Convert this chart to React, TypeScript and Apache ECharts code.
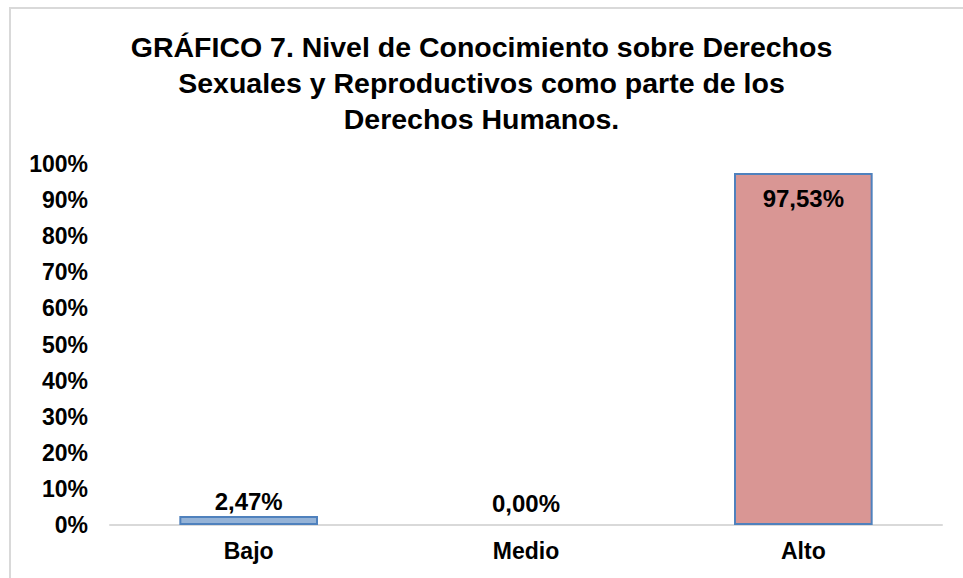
import React, { useEffect, useRef } from "react";
import * as echarts from "echarts";

const categories = ["Bajo", "Medio", "Alto"];
const values = [2.47, 0.0, 97.53];
const fillColors = ["#95b3d7", "#95b3d7", "#d99694"];
const yTicks = [0, 10, 20, 30, 40, 50, 60, 70, 80, 90, 100];
const titleText =
  "GRÁFICO 7. Nivel de Conocimiento sobre Derechos\nSexuales y Reproductivos como parte de los\nDerechos Humanos.";

const FONT = "'Liberation Sans', Arial, sans-serif";

export default function App() {
  const ref = useRef<HTMLDivElement>(null);
  useEffect(() => {
    if (!ref.current) return;
    const chart = echarts.init(ref.current, undefined, { renderer: "svg" });
    const fmt = (v: number) => v.toFixed(2).replace(".", ",") + "%";
    chart.setOption({
      animation: false,
      backgroundColor: "#ffffff",
      title: {
        text: titleText,
        left: "center",
        top: 29,
        padding: 0,
        textStyle: {
          fontFamily: FONT,
          fontWeight: "bold",
          fontSize: 28.5,
          lineHeight: 36,
          color: "#000000",
        },
      },
      graphic: [
        {
          type: "rect",
          shape: { x: 10, y: 8, width: 1200, height: 1200 },
          style: { fill: "none", stroke: "#d9d9d9", lineWidth: 2 },
          silent: true,
        },
      ],
      grid: { left: 110, right: 21, top: 164, bottom: 53, containLabel: false },
      xAxis: {
        type: "category",
        data: categories,
        axisLine: { show: true, lineStyle: { color: "#d9d9d9", width: 2 } },
        axisTick: { show: false },
        axisLabel: {
          margin: 14,
          fontFamily: FONT,
          fontWeight: "bold",
          fontSize: 23,
          color: "#000000",
        },
      },
      yAxis: {
        type: "value",
        min: yTicks[0],
        max: yTicks[yTicks.length - 1],
        interval: 10,
        axisLine: { show: false },
        axisTick: { show: false },
        splitLine: { show: false },
        axisLabel: {
          margin: 22,
          fontFamily: FONT,
          fontWeight: "bold",
          fontSize: 23,
          color: "#000000",
          formatter: (v: number) => v + "%",
        },
      },
      series: [
        {
          type: "bar",
          barWidth: "50%",
          data: values.map((v, i) => ({
            value: v,
            itemStyle: {
              color: fillColors[i],
              borderColor: "#4f81bd",
              borderWidth: v > 0 ? 2 : 0,
            },
            label: {
              show: true,
              position: i === 2 ? "insideTop" : "top",
              distance: i === 2 ? 14 : i === 1 ? 10 : 3,
              formatter: () => fmt(v),
              fontFamily: FONT,
              fontWeight: "bold",
              fontSize: 24,
              color: "#000000",
            },
          })),
        },
      ],
    });
    return () => chart.dispose();
  }, []);
  return (
    <div
      ref={ref}
      style={{ position: "fixed", left: 0, top: 0, width: 963, height: 578 }}
    />
  );
}
